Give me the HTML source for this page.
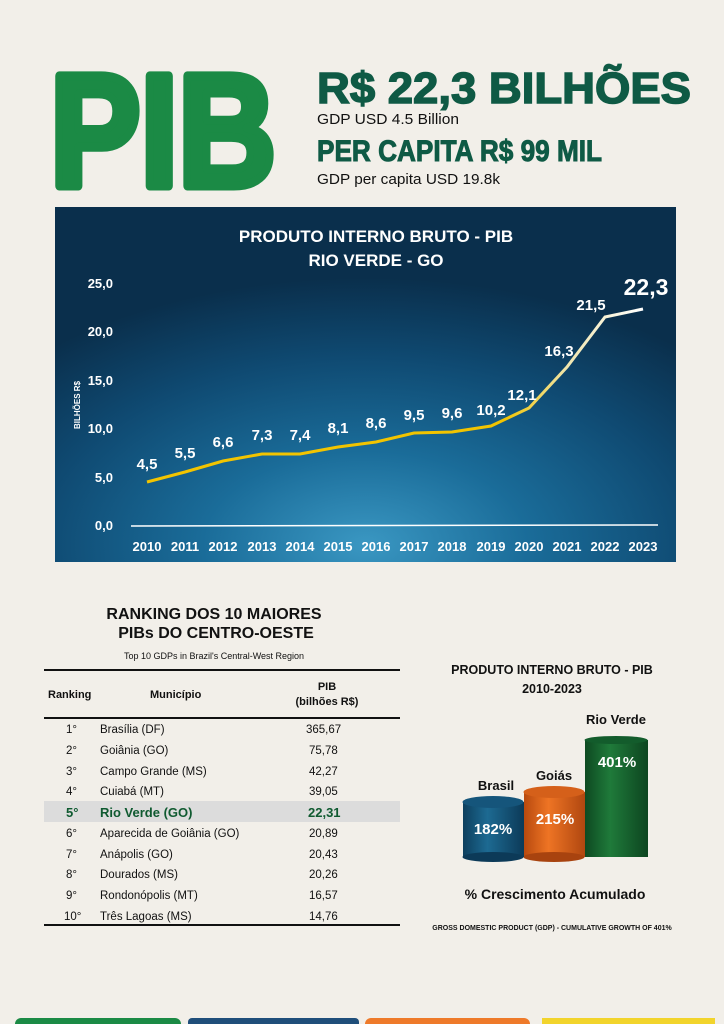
<!DOCTYPE html>
<html><head><meta charset="utf-8"><style>
html,body{margin:0;padding:0;background:#f2efe9;}
svg{display:block;font-family:"Liberation Sans",Arial,sans-serif;}
</style></head><body>
<svg width="724" height="1024" viewBox="0 0 724 1024" xmlns="http://www.w3.org/2000/svg">
<defs>
<radialGradient id="bg" cx="0.5" cy="0.95" r="0.75">
<stop offset="0" stop-color="#3a97c2"/>
<stop offset="0.35" stop-color="#1a6c99"/>
<stop offset="0.7" stop-color="#0f4a72"/>
<stop offset="1" stop-color="#0a2f4c"/>
</radialGradient>
<linearGradient id="ln" x1="0" y1="0" x2="1" y2="0">
<stop offset="0" stop-color="#f2c400"/>
<stop offset="0.72" stop-color="#f2c400"/>
<stop offset="0.85" stop-color="#f0e6b0"/>
<stop offset="1" stop-color="#ffffff"/>
</linearGradient>
<linearGradient id="cb" x1="0" x2="1"><stop offset="0" stop-color="#0d3f5e"/><stop offset="0.4" stop-color="#1d6a92"/><stop offset="1" stop-color="#0c3a58"/></linearGradient>
<linearGradient id="co" x1="0" x2="1"><stop offset="0" stop-color="#b84a0f"/><stop offset="0.4" stop-color="#ee7424"/><stop offset="1" stop-color="#b04710"/></linearGradient>
<linearGradient id="cg" x1="0" x2="1"><stop offset="0" stop-color="#0e4a22"/><stop offset="0.4" stop-color="#1f7a3a"/><stop offset="1" stop-color="#0d4520"/></linearGradient>
</defs>

<!-- header -->
<text x="50" y="186" font-size="160" font-weight="bold" fill="#1b8a45" stroke="#1b8a45" stroke-width="9" stroke-linejoin="round" textLength="226" lengthAdjust="spacingAndGlyphs">PIB</text>
<text x="317" y="103" font-size="44" font-weight="bold" fill="#0f5a45" stroke="#0f5a45" stroke-width="1.5" textLength="374" lengthAdjust="spacingAndGlyphs">R$ 22,3 BILHÕES</text>
<text x="317" y="124" font-size="15" fill="#111" textLength="142" lengthAdjust="spacingAndGlyphs">GDP USD 4.5 Billion</text>
<text x="317" y="161" font-size="30" font-weight="bold" fill="#0f5a45" stroke="#0f5a45" stroke-width="1" textLength="285" lengthAdjust="spacingAndGlyphs">PER CAPITA R$ 99 MIL</text>
<text x="317" y="184" font-size="15" fill="#111" textLength="183" lengthAdjust="spacingAndGlyphs">GDP per capita USD 19.8k</text>

<!-- line chart -->
<rect x="55" y="207" width="621" height="355" fill="url(#bg)"/>
<g fill="#fff" font-weight="bold" text-anchor="middle">
<text x="376" y="242" font-size="17">PRODUTO INTERNO BRUTO - PIB</text>
<text x="376" y="266" font-size="17">RIO VERDE - GO</text>
</g>
<g fill="#fff" font-size="13" font-weight="bold" text-anchor="end">
<text x="113" y="288">25,0</text><text x="113" y="336">20,0</text><text x="113" y="385">15,0</text>
<text x="113" y="433">10,0</text><text x="113" y="482">5,0</text><text x="113" y="530">0,0</text>
</g>
<text transform="translate(80,405) rotate(-90)" fill="#fff" font-size="8" font-weight="bold" text-anchor="middle">BILHÕES R$</text>
<line x1="131" y1="526" x2="658" y2="525" stroke="#fff" stroke-width="1.5"/>
<polyline fill="none" stroke="url(#ln)" stroke-width="3" points="147,482 185,472 223,461 262,454 300,454 338,447 376,442 414,433 452,432 491,426 529,408 567,367 605,317 643,309"/>
<g fill="#fff" font-size="13" font-weight="bold" text-anchor="middle">
<text x="147" y="551">2010</text><text x="185" y="551">2011</text><text x="223" y="551">2012</text><text x="262" y="551">2013</text><text x="300" y="551">2014</text><text x="338" y="551">2015</text><text x="376" y="551">2016</text><text x="414" y="551">2017</text><text x="452" y="551">2018</text><text x="491" y="551">2019</text><text x="529" y="551">2020</text><text x="567" y="551">2021</text><text x="605" y="551">2022</text><text x="643" y="551">2023</text>
</g>
<g fill="#fff" font-size="15" font-weight="bold" text-anchor="middle">
<text x="147" y="469">4,5</text><text x="185" y="458">5,5</text><text x="223" y="447">6,6</text><text x="262" y="440">7,3</text><text x="300" y="440">7,4</text><text x="338" y="433">8,1</text><text x="376" y="428">8,6</text><text x="414" y="420">9,5</text><text x="452" y="418">9,6</text><text x="491" y="415">10,2</text><text x="522" y="400">12,1</text><text x="559" y="356">16,3</text><text x="591" y="310">21,5</text>
<text x="646" y="295" font-size="23">22,3</text>
</g>

<!-- ranking -->
<g fill="#111" font-weight="bold" text-anchor="middle">
<text x="214" y="619" font-size="16">RANKING DOS 10 MAIORES</text>
<text x="216" y="638" font-size="16">PIBs DO CENTRO-OESTE</text>
<text x="214" y="659" font-size="9" font-weight="normal">Top 10 GDPs in Brazil's Central-West Region</text>
</g>
<line x1="44" y1="670" x2="400" y2="670" stroke="#111" stroke-width="2"/>
<g fill="#111" font-size="11" font-weight="bold">
<text x="48" y="698">Ranking</text><text x="150" y="698">Município</text>
<text x="327" y="690" text-anchor="middle">PIB</text><text x="327" y="705" text-anchor="middle">(bilhões R$)</text>
</g>
<line x1="44" y1="718" x2="400" y2="718" stroke="#111" stroke-width="2"/>
<rect x="44" y="801" width="356" height="21" fill="#dcdcdc"/>
<g fill="#111" font-size="11.5">
<text x="66" y="733">1°</text><text x="100" y="733">Brasília (DF)</text><text x="306" y="733">365,67</text>
<text x="66" y="754">2°</text><text x="100" y="754">Goiânia (GO)</text><text x="309" y="754">75,78</text>
<text x="66" y="775">3°</text><text x="100" y="775">Campo Grande (MS)</text><text x="309" y="775">42,27</text>
<text x="66" y="795">4°</text><text x="100" y="795">Cuiabá (MT)</text><text x="309" y="795">39,05</text>
<g fill="#0f5a30" font-weight="bold" font-size="13"><text x="66" y="817">5°</text><text x="100" y="817">Rio Verde (GO)</text><text x="308" y="817">22,31</text></g>
<text x="66" y="837">6°</text><text x="100" y="837">Aparecida de Goiânia (GO)</text><text x="309" y="837">20,89</text>
<text x="66" y="858">7°</text><text x="100" y="858">Anápolis (GO)</text><text x="309" y="858">20,43</text>
<text x="66" y="878">8°</text><text x="100" y="878">Dourados (MS)</text><text x="309" y="878">20,26</text>
<text x="66" y="899">9°</text><text x="100" y="899">Rondonópolis (MT)</text><text x="309" y="899">16,57</text>
<text x="64" y="920">10°</text><text x="100" y="920">Três Lagoas (MS)</text><text x="309" y="920">14,76</text>
</g>
<line x1="44" y1="925" x2="400" y2="925" stroke="#111" stroke-width="2"/>

<!-- bar chart -->
<g fill="#111" font-weight="bold" text-anchor="middle">
<text x="552" y="674" font-size="12.5">PRODUTO INTERNO BRUTO - PIB</text>
<text x="552" y="693" font-size="12.5">2010-2023</text>
<text x="616" y="724" font-size="13">Rio Verde</text>
<text x="554" y="780" font-size="13">Goiás</text>
<text x="496" y="790" font-size="13">Brasil</text>
<text x="555" y="899" font-size="14">% Crescimento Acumulado</text>
<text x="552" y="930" font-size="7">GROSS DOMESTIC PRODUCT (GDP) - CUMULATIVE GROWTH OF 401%</text>
</g>
<rect x="585" y="740" width="63" height="117" fill="url(#cg)"/><ellipse cx="616" cy="740" rx="31.5" ry="4" fill="#135c2c"/>
<rect x="524" y="792" width="61" height="65" fill="url(#co)"/><ellipse cx="554" cy="792" rx="30.5" ry="6" fill="#d5601a"/><ellipse cx="554" cy="857" rx="30.5" ry="5" fill="#a8430f"/>
<rect x="463" y="802" width="61" height="55" fill="url(#cb)"/><ellipse cx="493" cy="802" rx="30.5" ry="6" fill="#15557b"/><ellipse cx="493" cy="857" rx="30.5" ry="5" fill="#0c3a58"/>
<g fill="#fff" font-weight="bold" font-size="15" text-anchor="middle">
<text x="617" y="767">401%</text><text x="555" y="824">215%</text><text x="493" y="834">182%</text>
</g>

<!-- bottom tabs -->
<rect x="15" y="1018" width="166" height="12" rx="6" fill="#1b8a45"/>
<rect x="188" y="1018" width="171" height="12" rx="4" fill="#1f4e7a"/>
<rect x="365" y="1018" width="165" height="12" rx="6" fill="#ee7a2a"/>
<rect x="542" y="1018" width="173" height="12" fill="#f2d42c"/>
</svg>
</body></html>
